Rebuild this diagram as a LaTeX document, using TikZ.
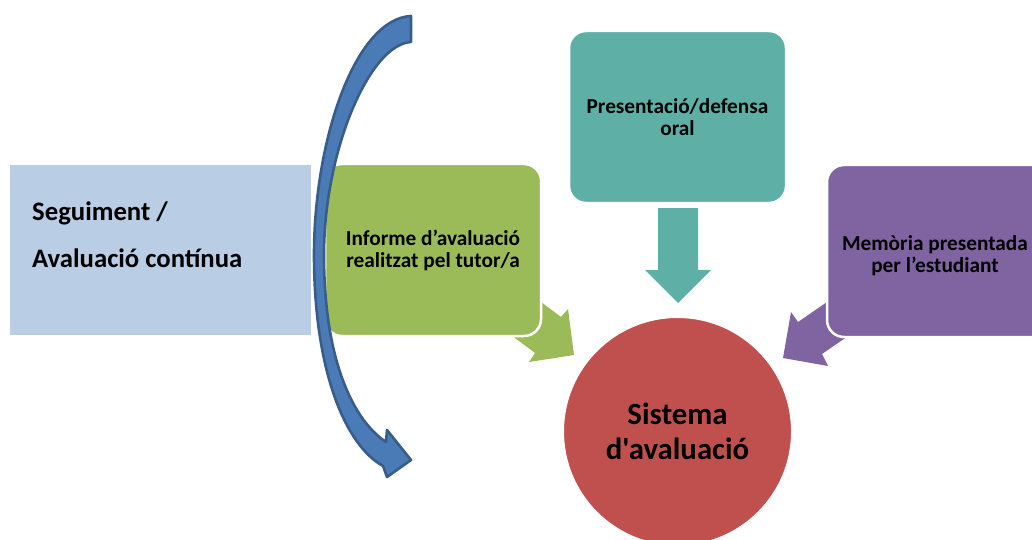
\documentclass[tikz,border=0pt]{standalone}
\usepackage{fontspec}
\setmainfont{Carlito}[Ligatures=TeXOff]
\definecolor{segblue}{HTML}{B9CDE5}
\definecolor{boxgreen}{HTML}{9BBB59}
\definecolor{boxteal}{RGB}{94,176,166}
\definecolor{boxpurple}{HTML}{8064A2}
\definecolor{circred}{HTML}{C0504D}
\definecolor{arrblue}{HTML}{4A7BB7}
\definecolor{arrblueline}{HTML}{385D8A}
\begin{document}
\begin{tikzpicture}[x=1pt,y=-1pt,
  box/.style={rectangle, rounded corners=17pt, draw=white, line width=2.5pt,
    minimum width=216pt, minimum height=172pt, inner sep=0pt, align=center,
    font=\bfseries\fontsize{21.3}{22}\selectfont},
  segtext/.style={anchor=base west, inner sep=0pt, font=\bfseries\fontsize{26.7}{30}\selectfont},
  bigcircle/.style={circle, draw=white, line width=2pt, minimum size=229pt, inner sep=0pt,
    align=center, font=\bfseries\fontsize{30.8}{35}\selectfont}
]
\useasboundingbox (0,0) rectangle (1032,540);

% left box
\node[rectangle, fill=segblue, minimum width=301pt, minimum height=170pt, inner sep=0pt] (seg) at (160.5,250) {};
\node[segtext] (seg1) at (32,220) {Seguiment /};
\node[segtext] (seg2) at (32,267) {Avaluació contínua};

% block arrows (behind boxes)
\fill[boxgreen] (521,287) -- (561,317) -- (568,309) -- (574,355) -- (529,362) -- (535,353) -- (495,323) -- cycle;
\fill[boxpurple] (843,291) -- (798,322) -- (791,312) -- (783,358) -- (828,366) -- (822,354) -- (867,323) -- cycle;

% boxes
\node[box, fill=boxgreen] (inf) at (433,250) {Informe d’avaluació\\realitzat pel tutor/a};
\node[box, fill=boxteal, minimum width=217pt] (pres) at (677.5,117) {Presentació/defensa\\oral};
\node[box, fill=boxpurple, minimum width=250pt,
  label={[font=\bfseries\fontsize{21.3}{22}\selectfont, align=center, xshift=-17pt, yshift=-5pt]center:Memòria presentada\\per l’estudiant}] (mem) at (952,251) {};

% teal arrow
\fill[boxteal] (658,208) -- (698,208) -- (698,270) -- (711,270) -- (678,303) -- (645,270) -- (658,270) -- cycle;

% circle
\node[bigcircle, fill=circred] (sys) at (677.5,431.5) {Sistema\\d'avaluació};

% curved blue arrow
\filldraw[fill=arrblue, draw=arrblueline, line width=2.6pt, line join=round]
  (411,16) .. controls (355,19) and (314,140) .. (314,255)
  .. controls (314,370) and (345,445) .. (383,466)
  -- (387,477) -- (411,460) -- (387,430) -- (386,442)
  .. controls (353,420) and (324,360) .. (324,255)
  .. controls (324,150) and (370,44) .. (411,42) -- cycle;
\end{tikzpicture}
\end{document}
